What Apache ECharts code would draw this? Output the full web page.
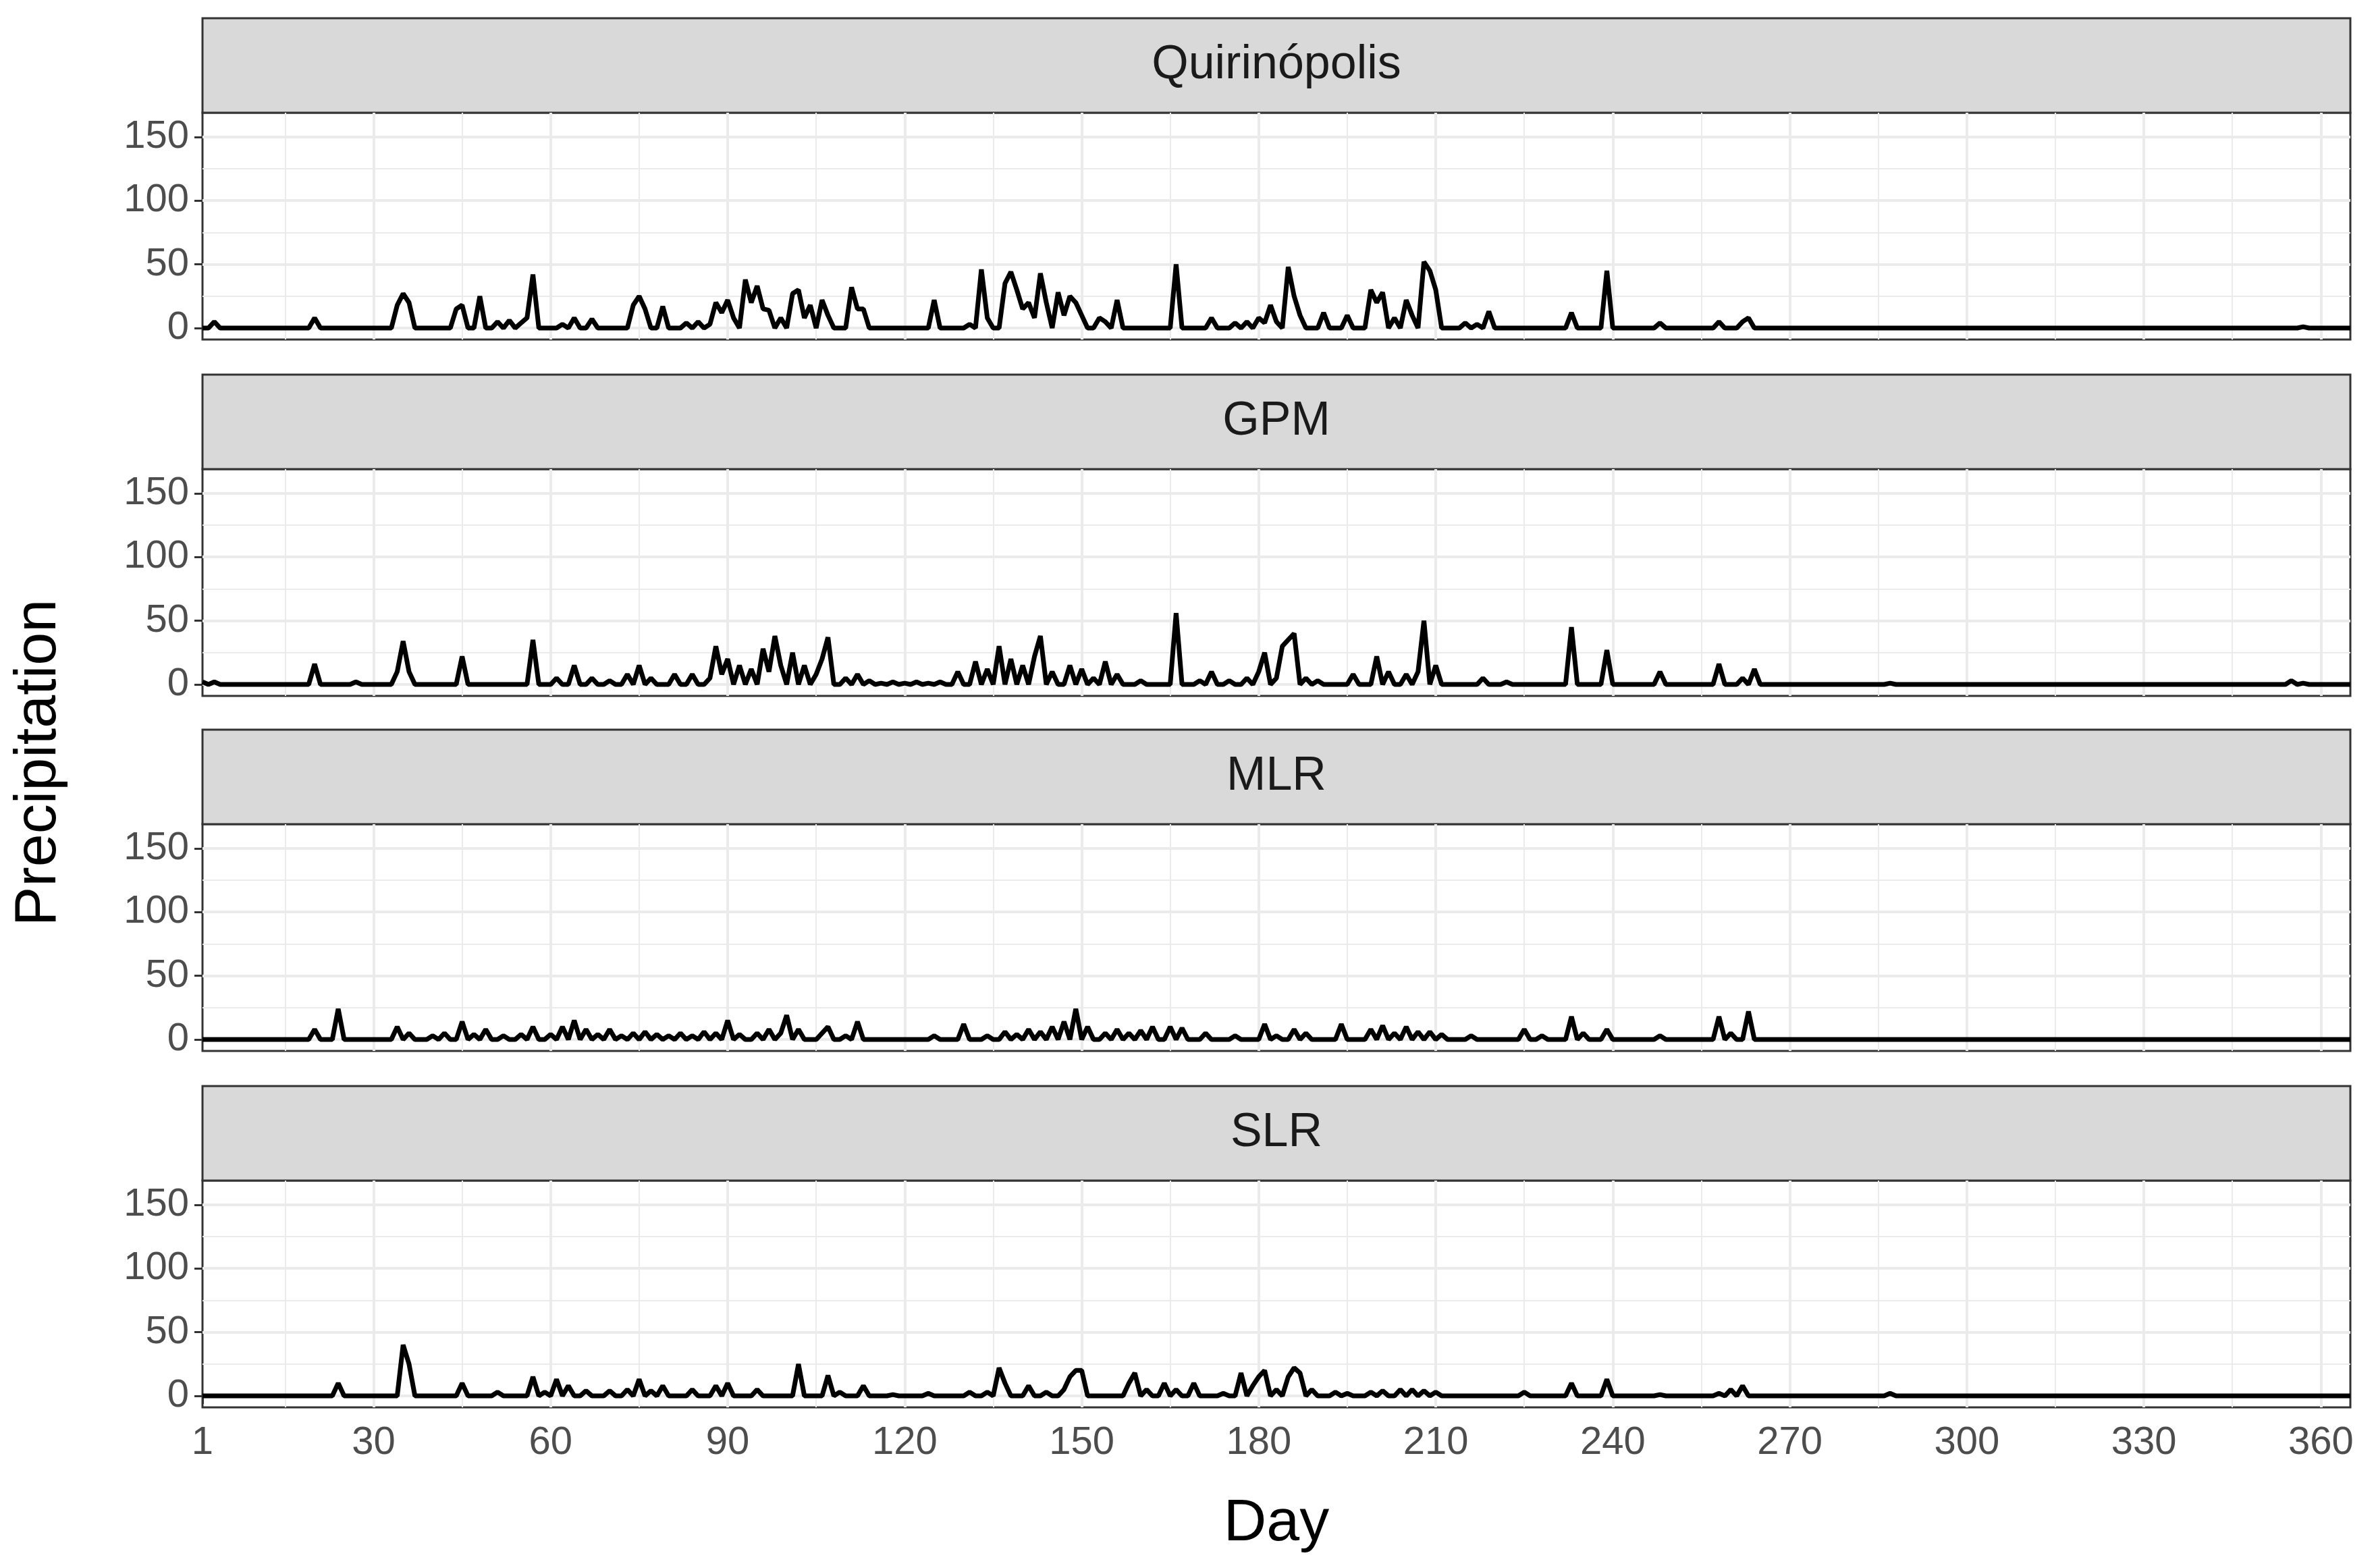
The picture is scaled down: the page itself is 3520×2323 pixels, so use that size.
<!DOCTYPE html>
<html>
<head>
<meta charset="utf-8">
<script src="https://cdn.jsdelivr.net/npm/echarts@6/dist/echarts.min.js"></script>
<style>html,body{margin:0;padding:0;background:#fff}#chart{width:3520px;height:2323px}</style>
</head>
<body>
<div id="chart"></div>
<script>
// panel names
const panels = ['Quirinópolis', 'GPM', 'MLR', 'SLR'];
// nonzero days: [day, precipitation]
const quirinopolis = [[3,5],[20,8],[34,18],[35,27],[36,20],[44,15],[45,18],[48,25],[51,5],[53,6],[55,4],[56,8],[57,42],[62,3],[64,8],[67,7],[74,18],[75,25],[76,15],[79,17],[83,4],[85,5],[87,3],[88,20],[89,12],[90,22],[91,8],[93,38],[94,20],[95,33],[96,15],[97,14],[99,8],[101,27],[102,30],[103,8],[104,18],[106,22],[107,10],[111,32],[112,15],[113,15],[125,22],[131,3],[133,46],[134,8],[137,35],[138,44],[139,30],[140,15],[141,20],[142,8],[143,43],[144,20],[146,28],[147,10],[148,25],[149,20],[150,10],[153,8],[154,5],[156,22],[166,50],[172,8],[176,4],[178,5],[180,8],[181,4],[182,18],[183,5],[185,48],[186,25],[187,10],[191,12],[195,10],[199,30],[200,20],[201,28],[203,8],[205,22],[206,10],[208,52],[209,45],[210,30],[215,4],[217,3],[219,13],[233,12],[239,45],[248,4],[258,5],[262,5],[263,8],[357,1]];
const gpm = [[1,2],[3,2],[20,16],[27,2],[34,10],[35,34],[36,10],[45,22],[57,35],[61,5],[64,15],[67,5],[70,3],[73,8],[75,15],[77,5],[81,8],[84,8],[87,5],[88,30],[89,8],[90,20],[92,15],[94,12],[96,28],[97,10],[98,38],[99,15],[101,25],[103,15],[105,8],[106,20],[107,37],[110,5],[112,8],[114,3],[116,1],[118,2],[120,1],[122,2],[124,1],[126,2],[129,10],[132,18],[134,12],[136,30],[138,20],[140,15],[142,22],[143,38],[145,10],[148,15],[150,12],[152,5],[154,18],[156,8],[160,3],[166,56],[170,3],[172,10],[175,3],[178,5],[180,10],[181,25],[183,5],[184,30],[185,35],[186,40],[188,5],[190,3],[196,8],[200,22],[202,10],[205,8],[207,10],[208,50],[210,15],[218,5],[222,2],[233,45],[239,27],[248,10],[258,16],[262,5],[264,12],[287,1],[355,3],[357,1]];
const mlr = [[20,8],[24,24],[34,10],[36,5],[40,3],[42,5],[45,14],[47,4],[49,8],[52,3],[55,4],[57,10],[60,4],[62,10],[64,15],[66,8],[68,4],[70,8],[72,3],[74,5],[76,6],[78,4],[80,3],[82,5],[84,3],[86,6],[88,5],[90,15],[92,4],[95,5],[97,8],[99,5],[100,19],[102,8],[106,5],[107,10],[110,3],[112,14],[125,3],[130,12],[134,3],[137,6],[139,4],[141,8],[143,6],[145,10],[147,14],[149,24],[151,10],[154,5],[156,8],[158,5],[160,7],[162,10],[165,10],[167,9],[171,5],[176,3],[181,12],[183,3],[186,8],[188,5],[194,12],[199,8],[201,11],[203,5],[205,10],[207,6],[209,6],[211,4],[216,3],[225,8],[228,3],[233,18],[235,5],[239,8],[248,3],[258,18],[260,5],[263,22]];
const slr = [[24,10],[35,40],[36,25],[45,10],[51,3],[57,15],[59,3],[61,13],[63,8],[66,4],[70,4],[73,5],[75,13],[77,4],[79,8],[84,5],[88,8],[90,10],[95,5],[102,25],[107,16],[109,3],[113,8],[118,1],[124,2],[131,3],[134,3],[136,22],[137,10],[141,8],[144,3],[147,5],[148,15],[149,20],[150,20],[158,10],[159,18],[161,5],[164,10],[166,5],[169,10],[174,2],[177,18],[179,8],[180,15],[181,20],[183,5],[185,15],[186,22],[187,18],[189,5],[193,3],[195,2],[199,3],[201,4],[204,5],[206,5],[208,4],[210,3],[225,3],[233,10],[239,13],[248,1],[258,2],[260,5],[262,8],[287,2]];
const xTicks = [1, 30, 60, 90, 120, 150, 180, 210, 240, 270, 300, 330, 360];
const yTicks = [0, 50, 100, 150];

const seriesData = [quirinopolis, gpm, mlr, slr];
function fullYear(pairs) {
  const m = new Map(pairs);
  const out = [];
  for (let d = 1; d <= 365; d++) out.push([d, m.has(d) ? m.get(d) : 0]);
  return out;
}

const L = 300, R = 3482;
const tops = [167, 695, 1221, 1749];
const H = 336;
const stripH = 140;
const font = 'Liberation Sans';

const grids = [], xAxes = [], yAxes = [], series = [], graphics = [];
panels.forEach((name, i) => {
  const last = i === panels.length - 1;
  grids.push({ left: L, width: R - L, top: tops[i], height: H, show: true,
    borderColor: '#333333', borderWidth: 3, backgroundColor: '#fff' });
  xAxes.push({ gridIndex: i, type: 'value', min: 1, max: 365,
    axisLine: { show: false }, splitLine: { show: false },
    axisTick: { show: last, customValues: xTicks, length: 12, lineStyle: { color: '#333', width: 3 } },
    axisLabel: { show: last, customValues: xTicks, fontSize: 58, color: '#4D4D4D', margin: 24, fontFamily: font } });
  yAxes.push({ gridIndex: i, type: 'value', min: -9, max: 169,
    axisLine: { show: false }, splitLine: { show: false },
    axisTick: { show: true, customValues: yTicks, length: 12, lineStyle: { color: '#333', width: 3 } },
    axisLabel: { show: true, customValues: yTicks, fontSize: 58, color: '#4D4D4D', margin: 20, fontFamily: font } });

  const gl = [];
  for (let d = 15; d <= 360; d += 15) {
    gl.push({ xAxis: d, lineStyle: { color: '#EBEBEB', width: d % 30 === 0 ? 4 : 2, type: 'solid' } });
  }
  for (let v = 0; v <= 150; v += 25) {
    gl.push({ yAxis: v, lineStyle: { color: '#EBEBEB', width: v % 50 === 0 ? 4 : 2, type: 'solid' } });
  }
  series.push({ type: 'line', xAxisIndex: i, yAxisIndex: i, data: [], z: 1, silent: true,
    markLine: { silent: true, symbol: 'none', label: { show: false }, animation: false, data: gl } });
  series.push({ type: 'line', xAxisIndex: i, yAxisIndex: i, data: fullYear(seriesData[i]),
    showSymbol: false, z: 5, lineStyle: { color: '#000', width: 7 }, animation: false });

  graphics.push({ type: 'rect', shape: { x: L, y: tops[i] - stripH, width: R - L, height: stripH },
    style: { fill: '#D9D9D9', stroke: '#333333', lineWidth: 3 } });
  graphics.push({ type: 'text', x: (L + R) / 2, y: tops[i] - stripH / 2,
    style: { text: name, fontSize: 70, fill: '#1A1A1A', align: 'center', verticalAlign: 'middle', fontFamily: font } });
});

graphics.push({ type: 'text', x: (L + R) / 2, y: 2258,
  style: { text: 'Day', fontSize: 88, fill: '#000', align: 'center', verticalAlign: 'middle', fontFamily: font } });
graphics.push({ type: 'text', x: 58, y: 1130, rotation: Math.PI / 2,
  style: { text: 'Precipitation', fontSize: 88, fill: '#000', align: 'center', verticalAlign: 'middle', fontFamily: font } });

const chart = echarts.init(document.getElementById('chart'), null, { renderer: 'canvas' });
chart.setOption({
  backgroundColor: '#fff',
  animation: false,
  grid: grids, xAxis: xAxes, yAxis: yAxes, series: series, graphic: graphics
});
</script>
</body>
</html>
